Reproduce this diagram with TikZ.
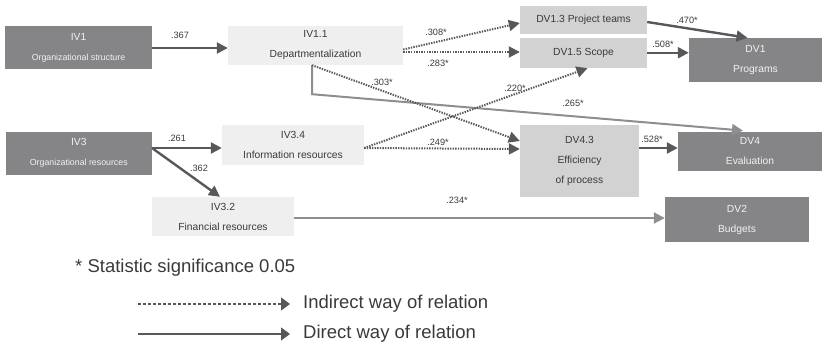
\documentclass[tikz,border=0pt]{standalone}
\usepackage{fontspec}
\setmainfont{Liberation Sans}
\usetikzlibrary{arrows.meta}

\definecolor{boxdark}{HTML}{858587}
\definecolor{boxlight}{HTML}{EFEFF0}
\definecolor{boxmid}{HTML}{D2D2D2}
\definecolor{linedark}{HTML}{58585A}
\definecolor{linegrey}{HTML}{8E8E90}
\definecolor{textdark}{HTML}{3A3A3A}
\definecolor{textlight}{HTML}{F2F2F2}

\tikzset{
  box/.style={inner sep=0pt, align=center, text=textdark,
    font=\fontsize{10.3}{20}\selectfont},
  darkbox/.style={box, fill=boxdark, text=textlight},
  lightbox/.style={box, fill=boxlight},
  midbox/.style={box, fill=boxmid},
  tip/.style={-{Triangle[length=11pt,width=11pt]}},
  direct/.style={tip, draw=linedark, line width=2.4pt, color=linedark},
  directgrey/.style={tip, draw=linegrey, line width=2pt, color=linegrey},
  indirect/.style={tip, draw=linedark, color=linedark, line width=2pt,
    dash pattern=on 1.4pt off 1.2pt},
  coef/.style={font=\fontsize{9.2}{10}\selectfont, text=textdark, inner sep=0pt},
  legend/.style={font=\fontsize{18.5}{20}\selectfont, text=textdark, inner sep=0pt},
  legtip/.style={-{Triangle[length=9pt,width=13pt]}, color=linedark, line width=1.1pt}
}

\begin{document}
\begin{tikzpicture}[x=1pt,y=-1pt]
\useasboundingbox (0,0) rectangle (822,348);

% independent variables
\node[darkbox, minimum width=147pt, minimum height=43pt] (iv1) at (78.5,47.5)
  {IV1\\\fontsize{8.8}{20}\selectfont Organizational structure};
\node[lightbox, minimum width=175pt, minimum height=39pt] (iv11) at (315.5,45.5)
  {IV1.1\\Departmentalization};
\node[darkbox, minimum width=146pt, minimum height=43pt] (iv3) at (78.8,153.3)
  {IV3\\\fontsize{8.8}{20}\selectfont Organizational resources};
\node[lightbox, minimum width=142pt, minimum height=40pt] (iv34) at (293,145)
  {IV3.4\\Information resources};
\node[lightbox, minimum width=142pt, minimum height=39pt] (iv32) at (223,216.5)
  {IV3.2\\Financial resources};

% mediating variables
\node[midbox, minimum width=127pt, minimum height=28pt] (dv13) at (583.5,20)
  {DV1.3 Project teams};
\node[midbox, minimum width=127pt, minimum height=30.5pt] (dv15) at (583.5,52.75)
  {DV1.5 Scope};
\node[midbox, minimum width=119pt, minimum height=72pt] (dv43) at (579.5,161)
  {DV4.3\\Efficiency\\of process};

% dependent variables
\node[darkbox, minimum width=133pt, minimum height=44pt] (dv1) at (755.5,60)
  {DV1\\Programs};
\node[darkbox, minimum width=144pt, minimum height=39pt] (dv4) at (750,151.3)
  {DV4\\Evaluation};
\node[darkbox, minimum width=144pt, minimum height=45pt] (dv2) at (737,219.5)
  {DV2\\Budgets};

% anchor points on the box borders (shifts are in page units: positive = up)
\coordinate (iv1out) at ([yshift=-0.5pt]iv1.east);
\coordinate (iv11dn) at ([xshift=-3.5pt]iv11.south);
\coordinate (bend) at ([yshift=-29pt]iv11dn);
\coordinate (iv3out) at ([yshift=5.3pt]iv3.east);
\coordinate (iv34out) at ([yshift=-3pt]iv34.east);

% direct paths
\draw[direct] (iv1out) -- (iv1out -| iv11.west);
\draw[direct] (iv3out) -- (iv3out -| iv34.west);
\draw[direct] (iv3out) -- ([xshift=-3pt]iv32.north);
\draw[direct] ([yshift=-2pt]dv13.east) -- ([xshift=-8pt]dv1.north);
\draw[direct] (dv15.east) -- (dv15.east -| dv1.west);
\draw[direct] ([yshift=13pt]dv43.east) -- ([yshift=13pt]dv43.east -| dv4.west);
\draw[directgrey] (iv11dn) -- (bend) -- ([xshift=-7pt,yshift=1pt]dv4.north);
\draw[directgrey] ([yshift=-1.5pt]iv32.east) -- ([yshift=-1.5pt]iv32.east -| dv2.west);

% indirect paths
\draw[indirect] ([yshift=-4pt]iv11.east) -- ([yshift=-3pt]dv13.west);
\draw[indirect] ([yshift=-6.5pt]iv11.east) -- ([yshift=-6.5pt]iv11.east -| dv15.west);
\draw[indirect] (iv11dn) -- ([yshift=20pt]dv43.west);
\draw[indirect] (iv34out) -- ([yshift=12pt]dv43.west);
\draw[indirect] (iv34out) -- ([xshift=4pt]dv15.south);

% path coefficients
\node[coef] (c1) at (180,35) {.367};
\node[coef] (c2) at (436,32) {.308*};
\node[coef] (c3) at (438,63) {.283*};
\node[coef] (c4) at (382,82) {.303*};
\node[coef] (c5) at (573,103) {.265*};
\node[coef] (c6) at (515,88) {.220*};
\node[coef] (c7) at (438,142) {.249*};
\node[coef] (c8) at (457,200) {.234*};
\node[coef] (c9) at (177,138) {.261};
\node[coef] (c10) at (199,168) {.362};
\node[coef] (c11) at (687,20) {.470*};
\node[coef] (c12) at (663,44) {.508*};
\node[coef] (c13) at (652,139) {.528*};

% legend
\node[legend, anchor=west] (sig) at (75,268) {* Statistic significance 0.05};
\coordinate (l1a) at (138,304);
\coordinate (l2a) at (138,334);
\node[legend, anchor=west] (ind) at (303,304) {Indirect way of relation};
\node[legend, anchor=west] (dir) at (303,334) {Direct way of relation};
\draw[legtip, dash pattern=on 3pt off 2pt] (l1a) -- ([xshift=-13pt]ind.west);
\draw[legtip] (l2a) -- ([xshift=-13pt]dir.west);
\end{tikzpicture}
\end{document}
